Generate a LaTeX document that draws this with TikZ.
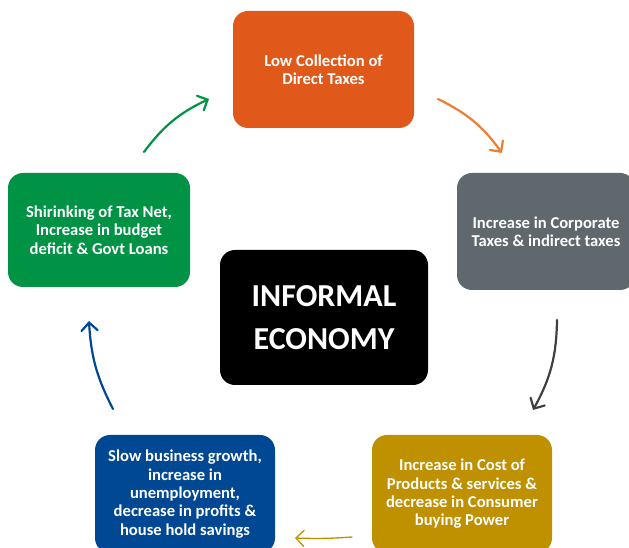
\documentclass[tikz,border=0pt]{standalone}
\usepackage{fontspec}
\setmainfont{Carlito}
\usetikzlibrary{arrows.meta}

\definecolor{boxorange}{RGB}{224,89,26}
\definecolor{boxgray}{RGB}{94,104,109}
\definecolor{boxgreen}{RGB}{0,146,69}
\definecolor{boxgold}{RGB}{191,144,0}
\definecolor{boxblue}{RGB}{0,71,148}
\definecolor{arroworange}{RGB}{237,125,49}
\definecolor{arrowgray}{RGB}{64,64,64}

\begin{document}
\begin{tikzpicture}[x=1pt,y=1pt,
	    stage/.style={rounded corners=15pt,text=white,align=center,
		font=\fontsize{16.6}{18.3}\selectfont\bfseries,inner sep=0pt},
	    loop/.style={line width=2.2pt,line cap=round,
		-{Straight Barb[length=8pt,width=16pt,line cap=round]}}]
	    \path[use as bounding box,clip] (0,0) rectangle (629,548);

	    % The five stages round the cycle
	    \node (direct) [stage,fill=boxorange,minimum width=181,minimum height=117]
		at (323.5,478.5) {Low Collection of\\Direct Taxes};
	    \node (corporate) [stage,fill=boxgray,minimum width=178,minimum height=117]
		at (546,316.5) {Increase in Corporate\\Taxes \& indirect taxes};
	    \node (cost) [stage,fill=boxgold,minimum width=180,minimum height=118]
		at (462,54) {Increase in Cost of\\Products \& services \&\\decrease in Consumer\\buying Power};
	    \node (growth) [stage,fill=boxblue,minimum width=180,minimum height=118]
		at (185,54) {Slow business growth,\\increase in\\unemployment,\\decrease in profits \&\\house hold savings};
	    \node (taxnet) [stage,fill=boxgreen,minimum width=182,minimum height=114]
		at (99,318) {Shirinking of Tax Net,\\Increase in budget\\deficit \& Govt Loans};

	    % And the one in the middle
	    \node (informal) [stage,fill=black,minimum width=208,minimum height=135,
		font=\fontsize{32}{43}\selectfont\bfseries] at (324,230.5) {INFORMAL\\ECONOMY};

	    % Free ends of the arrows
	    \coordinate (g1) at (144,396);  \coordinate (g2) at (209,449);
	    \coordinate (o1) at (438,449);  \coordinate (o2) at (502,395);
	    \coordinate (k1) at (557,228);  \coordinate (k2) at (533,138);
	    \coordinate (y1) at (352,11);   \coordinate (y2) at (295,10);
	    \coordinate (b1) at (113,139);  \coordinate (b2) at (89,227);

	    \draw [loop,boxgreen] (g1) to[bend left=14] (g2);
	    \draw [loop,arroworange] (o1) to[bend left=14] (o2);
	    \draw [loop,arrowgray] (k1) to[bend left=14] (k2);
	    \draw [loop,boxgold,line width=1.3pt] (y1) to[bend left=3] (y2);
	    \draw [loop,boxblue] (b1) to[bend left=12] (b2);
	\end{tikzpicture}
\end{document}
